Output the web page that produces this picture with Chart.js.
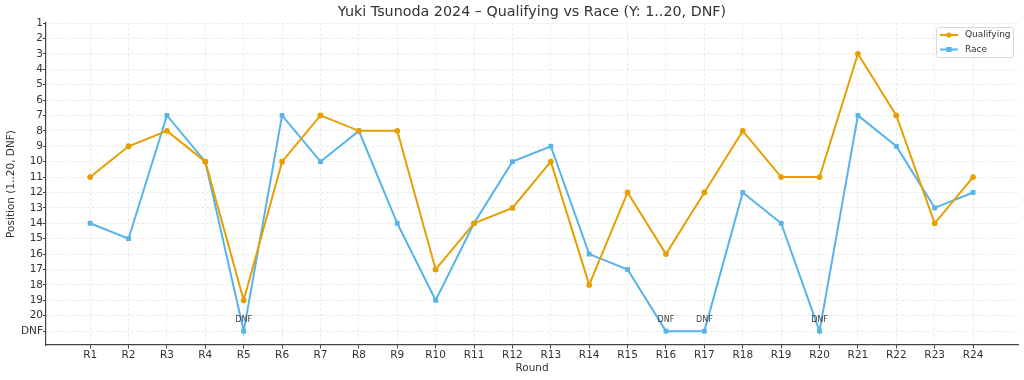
<!DOCTYPE html>
<html>
<head>
<meta charset="utf-8">
<script src="https://cdn.jsdelivr.net/npm/chart.js@4.4.1/dist/chart.umd.min.js"></script>
<style>
html,body{margin:0;padding:0;background:#fff;}
#wrap{width:1024px;height:380px;position:relative;}
</style>
</head>
<body>
<div id="wrap"><canvas id="c" width="1024" height="380"></canvas></div>
<script>
const rounds = ["R1","R2","R3","R4","R5","R6","R7","R8","R9","R10","R11","R12","R13","R14","R15","R16","R17","R18","R19","R20","R21","R22","R23","R24"];
const qualifying = [11,9,8,10,19,10,7,8,8,17,14,13,10,18,12,16,12,8,11,11,3,7,14,11];
const race = [14,15,7,10,21,7,10,8,14,19,14,10,9,16,17,21,21,12,14,21,7,9,13,12];
const yTickValues = [1,2,3,4,5,6,7,8,9,10,11,12,13,14,15,16,17,18,19,20,21];
const yTickLabels = ["1","2","3","4","5","6","7","8","9","10","11","12","13","14","15","16","17","18","19","20","DNF"];
const DNF_VALUE = 21;

const FONT = "'DejaVu Sans', sans-serif";
const ORANGE = "#E69F00";
const BLUE = "#56B4E9";

const titlePlugin = {
  id: 'plotTitle',
  afterDraw(chart) {
    const {ctx, chartArea} = chart;
    ctx.save();
    ctx.font = "14.3px " + FONT;
    ctx.fillStyle = "#333333";
    ctx.textAlign = "center";
    ctx.textBaseline = "middle";
    ctx.fillText("Yuki Tsunoda 2024 – Qualifying vs Race (Y: 1..20, DNF)", (chartArea.left + chartArea.right) / 2, 12);
    ctx.restore();
  }
};

const dnfPlugin = {
  id: 'dnfLabels',
  afterDatasetsDraw(chart) {
    const {ctx} = chart;
    const meta = chart.getDatasetMeta(1);
    ctx.save();
    ctx.font = "8px " + FONT;
    ctx.fillStyle = "#444444";
    ctx.textAlign = "center";
    ctx.textBaseline = "middle";
    race.forEach((v, i) => {
      if (v === DNF_VALUE) {
        const el = meta.data[i];
        ctx.fillText("DNF", el.x, el.y - 11);
      }
    });
    ctx.restore();
  }
};

const legendPlugin = {
  id: 'innerLegend',
  afterDraw(chart) {
    const {ctx, chartArea} = chart;
    const w = 77, h = 30;
    const x0 = chartArea.right - 5 - w, y0 = chartArea.top + 4;
    ctx.save();
    ctx.fillStyle = "rgba(255,255,255,0.85)";
    ctx.strokeStyle = "#d9d9d9";
    ctx.lineWidth = 1;
    ctx.beginPath();
    if (ctx.roundRect) ctx.roundRect(x0 + 0.5, y0 + 0.5, w, h, 2); else ctx.rect(x0 + 0.5, y0 + 0.5, w, h);
    ctx.fill();
    ctx.stroke();
    chart.data.datasets.forEach((ds, i) => {
      const yy = y0 + 8 + i * 14.5;
      ctx.strokeStyle = ds.borderColor;
      ctx.lineWidth = 2;
      ctx.beginPath();
      ctx.moveTo(x0 + 4, yy);
      ctx.lineTo(x0 + 22, yy);
      ctx.stroke();
      ctx.fillStyle = ds.borderColor;
      if (ds.pointStyle === 'rect') {
        ctx.fillRect(x0 + 13 - 2.5, yy - 2.5, 5, 5);
      } else {
        ctx.beginPath();
        ctx.arc(x0 + 13, yy, 2.6, 0, Math.PI * 2);
        ctx.fill();
      }
      ctx.fillStyle = "#333333";
      ctx.font = "9px " + FONT;
      ctx.textAlign = "left";
      ctx.textBaseline = "middle";
      ctx.fillText(ds.label, x0 + 29, yy);
    });
    ctx.restore();
  }
};

const toPoints = arr => arr.map((v, i) => ({x: i, y: v}));

new Chart(document.getElementById('c'), {
  type: 'line',
  data: {
    datasets: [
      {
        label: 'Qualifying',
        data: toPoints(qualifying),
        borderColor: ORANGE,
        backgroundColor: ORANGE,
        borderWidth: 2,
        pointStyle: 'circle',
        pointRadius: 2.9,
        pointBorderWidth: 0,
        tension: 0
      },
      {
        label: 'Race',
        data: toPoints(race),
        borderColor: BLUE,
        backgroundColor: BLUE,
        borderWidth: 2,
        pointStyle: 'rect',
        pointRadius: 3.4,
        pointBorderWidth: 0,
        tension: 0
      }
    ]
  },
  options: {
    responsive: false,
    animation: false,
    devicePixelRatio: 1,
    layout: {padding: {top: 23, right: 6, left: 0, bottom: 0}},
    plugins: {
      legend: {display: false},
      title: {display: false},
      tooltip: {enabled: false}
    },
    scales: {
      x: {
        type: 'linear',
        min: -1.15,
        max: 24.17,
        afterBuildTicks(scale) {
          scale.ticks = rounds.map((r, i) => ({value: i}));
        },
        afterFit(scale) { scale.height = 35; },
        ticks: {
          autoSkip: false,
          maxRotation: 0,
          padding: 0,
          color: "#333333",
          font: {family: FONT, size: 10.5},
          callback(v) { return rounds[v]; }
        },
        grid: {
          color: "#e6e6e6",
          lineWidth: 0.8,
          drawTicks: true,
          tickLength: 3.5,
          tickColor: "#444444",
          tickWidth: 1
        },
        border: {display: true, color: "#444444", width: 1.2, dash: [3, 2]},
        title: {
          display: true,
          text: 'Round',
          color: "#333333",
          font: {family: FONT, size: 10.5},
          padding: {top: 0, bottom: 5}
        }
      },
      y: {
        type: 'linear',
        reverse: true,
        min: 1,
        max: 21.9,
        afterBuildTicks(scale) {
          scale.ticks = yTickValues.map(v => ({value: v}));
        },
        afterFit(scale) { scale.width = 46; },
        ticks: {
          autoSkip: false,
          padding: 0,
          color: "#333333",
          font: {family: FONT, size: 10.5},
          callback(v) {
            const k = yTickValues.indexOf(v);
            return k >= 0 ? yTickLabels[k] : '';
          }
        },
        grid: {
          color: "#e6e6e6",
          lineWidth: 0.8,
          drawTicks: true,
          tickLength: 3,
          tickColor: "#444444",
          tickWidth: 1
        },
        border: {display: true, color: "#444444", width: 1.2, dash: [3, 2]},
        title: {
          display: true,
          text: 'Position (1..20, DNF)',
          color: "#333333",
          font: {family: FONT, size: 10.5},
          padding: {top: 5, bottom: 0}
        }
      }
    }
  },
  plugins: [titlePlugin, dnfPlugin, legendPlugin]
});
</script>
</body>
</html>
